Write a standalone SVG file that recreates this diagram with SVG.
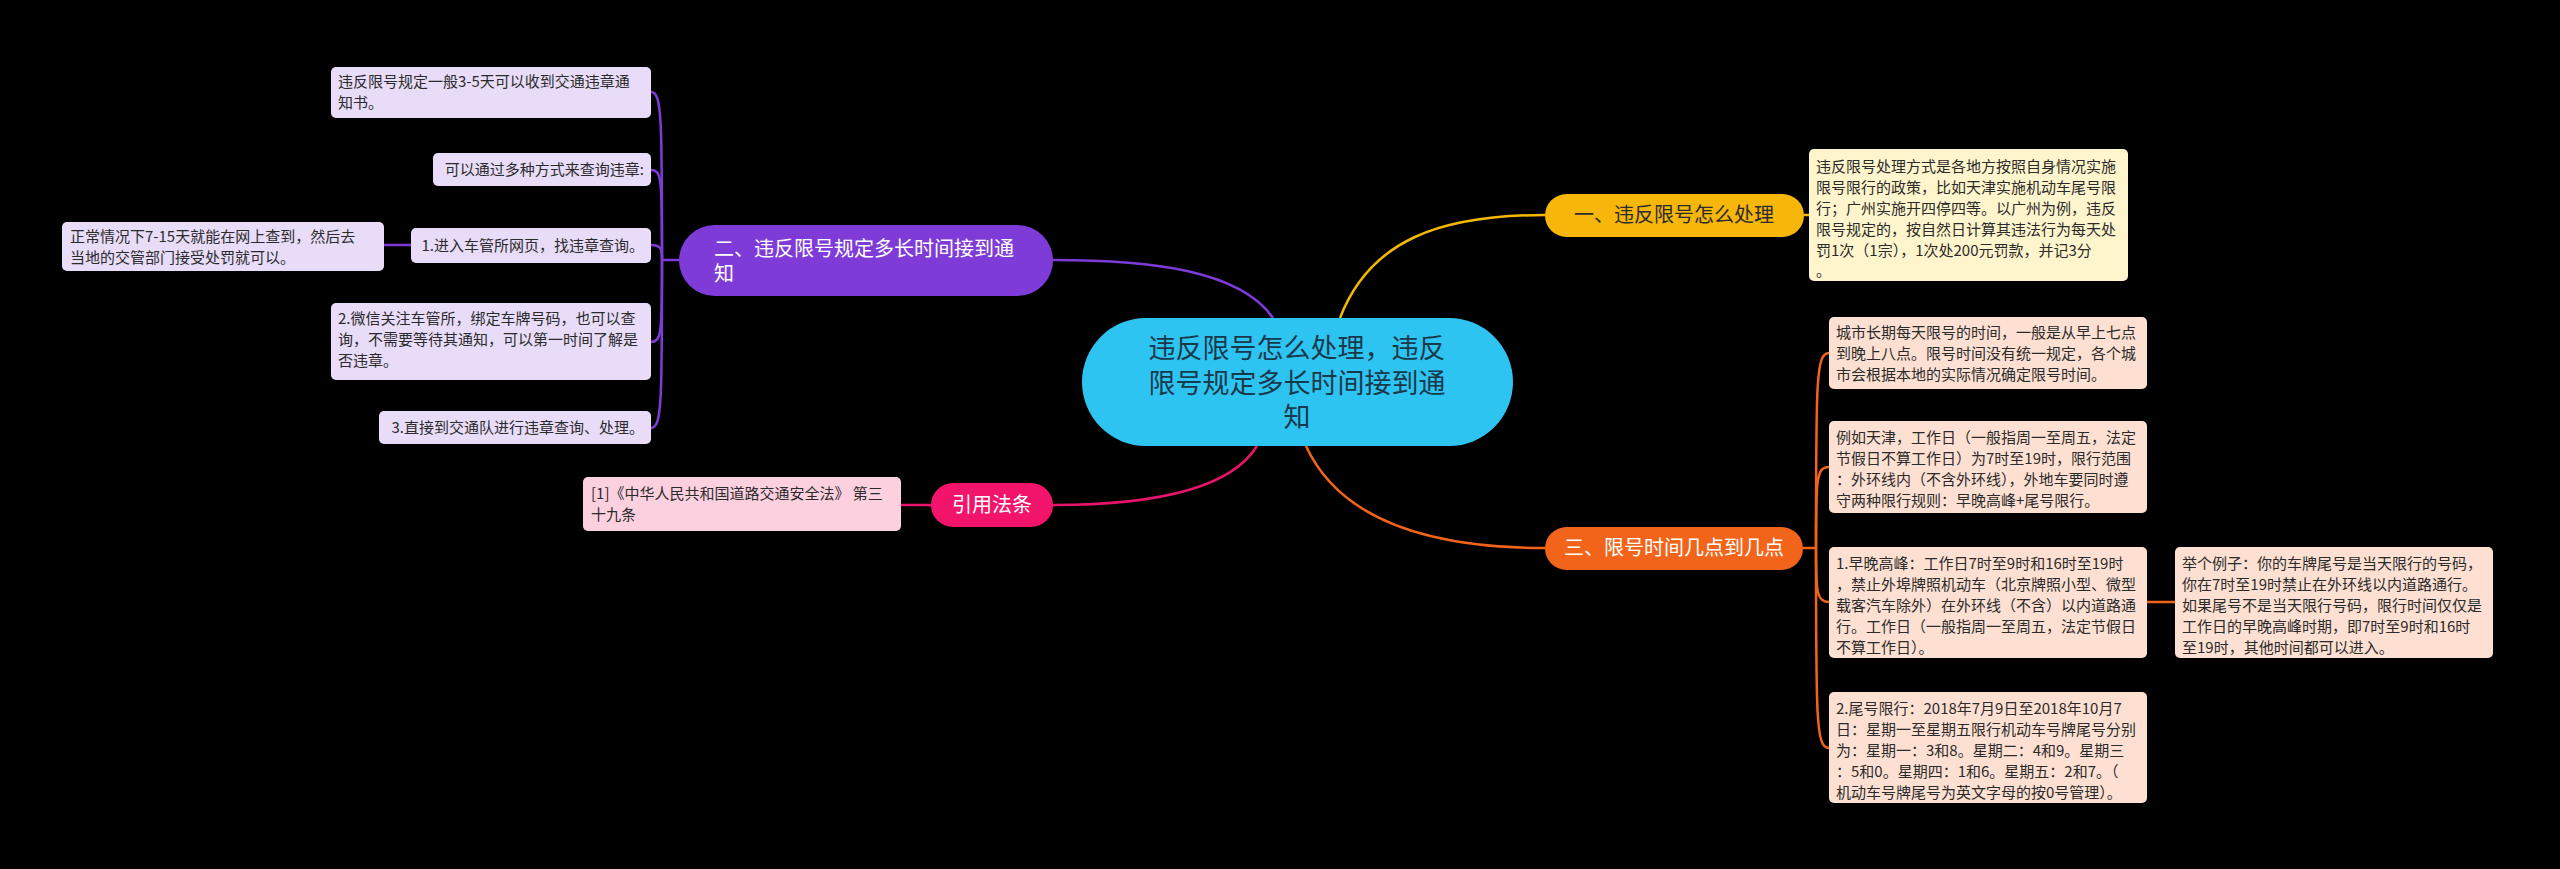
<svg xmlns="http://www.w3.org/2000/svg" width="2560" height="869" viewBox="0 0 2560 869">
<style>
text{font-family:"Noto Sans CJK SC","Liberation Sans",sans-serif;}
.leaf{font-size:15px;fill:#2b2b2b;}
.br{font-size:20px;}
.c{fill:none;stroke-width:2.5;}
</style>
<rect x="0" y="0" width="2560" height="869" fill="#000"/>
<g id="connectors">
<path class="c" stroke="#7e3bd8" d="M1273,318 C1240,270 1150,260 1053,260"/>
<path class="c" stroke="#f5b800" d="M1340,318 C1370,240 1440,215 1545,215"/>
<path class="c" stroke="#f2641a" d="M1306,446 C1340,520 1430,548 1545,548"/>
<path class="c" stroke="#e8136b" d="M1257,446 C1230,490 1150,505 1053,505"/>
<path class="c" stroke="#f5b800" d="M1804,215 L1809,215"/>
<path class="c" stroke="#e8136b" d="M931,505 L901,505"/>
<g stroke="#7e3bd8">
<path class="c" d="M679,260 L662,260"/>
<path class="c" d="M662,260 C662,120 662,92 651,92"/>
<path class="c" d="M662,260 C662,180 662,170 651,170"/>
<path class="c" d="M662,260 C662,250 662,245 651,245"/>
<path class="c" d="M662,260 C662,330 662,342 651,342"/>
<path class="c" d="M662,260 C662,400 662,428 651,428"/>
<path class="c" d="M411,245 L384,245"/>
</g>
<g stroke="#f2641a">
<path class="c" d="M1803,548 L1816,548"/>
<path class="c" d="M1816,548 C1816,380 1816,353 1829,353"/>
<path class="c" d="M1816,548 C1816,480 1816,467 1829,467"/>
<path class="c" d="M1816,548 C1816,590 1816,602 1829,602"/>
<path class="c" d="M1816,548 C1816,720 1816,748 1829,748"/>
<path class="c" d="M2147,602 L2175,602"/>
</g>
</g>
<g id="central">
<rect x="1082" y="318" width="431" height="128" rx="64" fill="#2ec4f2"/>
<text x="1297" y="358" font-size="27" fill="#17394a" text-anchor="middle">违反限号怎么处理，违反</text>
<text x="1297" y="393" font-size="27" fill="#17394a" text-anchor="middle">限号规定多长时间接到通</text>
<text x="1297" y="427" font-size="27" fill="#17394a" text-anchor="middle">知</text>
</g>
<g id="b1">
<rect x="1545" y="194" width="259" height="43" rx="21.5" fill="#f6b60a"/>
<text x="1674" y="222" class="br" fill="#2b2b2b" text-anchor="middle">一、违反限号怎么处理</text>
</g>
<g id="b1l">
<rect x="1809" y="149" width="319" height="132" rx="5" fill="#fff5cc"/>
<text class="leaf" x="1816"><tspan x="1816" y="172">违反限号处理方式是各地方按照自身情况实施</tspan><tspan x="1816" y="193">限号限行的政策，比如天津实施机动车尾号限</tspan><tspan x="1816" y="214">行；广州实施开四停四等。以广州为例，违反</tspan><tspan x="1816" y="235">限号规定的，按自然日计算其违法行为每天处</tspan><tspan x="1816" y="256">罚1次（1宗），1次处200元罚款，并记3分</tspan><tspan x="1816" y="276">。</tspan></text>
</g>
<g id="b3">
<rect x="1545" y="527" width="258" height="43" rx="21.5" fill="#f2641a"/>
<text x="1674" y="555" class="br" fill="#fff" text-anchor="middle">三、限号时间几点到几点</text>
</g>
<g id="b3a">
<rect x="1829" y="317" width="318" height="72" rx="5" fill="#fde0d2"/>
<text class="leaf"><tspan x="1836" y="338">城市长期每天限号的时间，一般是从早上七点</tspan><tspan x="1836" y="359">到晚上八点。限号时间没有统一规定，各个城</tspan><tspan x="1836" y="380">市会根据本地的实际情况确定限号时间。</tspan></text>
</g>
<g id="b3b">
<rect x="1829" y="421" width="318" height="92" rx="5" fill="#fde0d2"/>
<text class="leaf"><tspan x="1836" y="443">例如天津，工作日（一般指周一至周五，法定</tspan><tspan x="1836" y="464">节假日不算工作日）为7时至19时，限行范围</tspan><tspan x="1836" y="485">：外环线内（不含外环线），外地车要同时遵</tspan><tspan x="1836" y="506">守两种限行规则：早晚高峰+尾号限行。</tspan></text>
</g>
<g id="b3c">
<rect x="1829" y="547" width="318" height="111" rx="5" fill="#fde0d2"/>
<text class="leaf"><tspan x="1836" y="569">1.早晚高峰：工作日7时至9时和16时至19时</tspan><tspan x="1836" y="590">，禁止外埠牌照机动车（北京牌照小型、微型</tspan><tspan x="1836" y="611">载客汽车除外）在外环线（不含）以内道路通</tspan><tspan x="1836" y="632">行。工作日（一般指周一至周五，法定节假日</tspan><tspan x="1836" y="653">不算工作日）。</tspan></text>
</g>
<g id="b3d">
<rect x="2175" y="547" width="318" height="111" rx="5" fill="#fde0d2"/>
<text class="leaf"><tspan x="2182" y="569">举个例子：你的车牌尾号是当天限行的号码，</tspan><tspan x="2182" y="590">你在7时至19时禁止在外环线以内道路通行。</tspan><tspan x="2182" y="611">如果尾号不是当天限行号码，限行时间仅仅是</tspan><tspan x="2182" y="632">工作日的早晚高峰时期，即7时至9时和16时</tspan><tspan x="2182" y="653">至19时，其他时间都可以进入。</tspan></text>
</g>
<g id="b3e">
<rect x="1829" y="692" width="318" height="111" rx="5" fill="#fde0d2"/>
<text class="leaf"><tspan x="1836" y="714">2.尾号限行：2018年7月9日至2018年10月7</tspan><tspan x="1836" y="735">日：星期一至星期五限行机动车号牌尾号分别</tspan><tspan x="1836" y="756">为：星期一：3和8。星期二：4和9。星期三</tspan><tspan x="1836" y="777">：5和0。星期四：1和6。星期五：2和7。（</tspan><tspan x="1836" y="798">机动车号牌尾号为英文字母的按0号管理）。</tspan></text>
</g>
<g id="b2">
<rect x="679" y="225" width="374" height="71" rx="35.5" fill="#7e3bd8"/>
<text class="br" fill="#fff"><tspan x="714" y="256">二、违反限号规定多长时间接到通</tspan><tspan x="714" y="281">知</tspan></text>
</g>
<g id="b2a">
<rect x="331" y="67" width="320" height="51" rx="5" fill="#e8dcf8"/>
<text class="leaf"><tspan x="338" y="87">违反限号规定一般3-5天可以收到交通违章通</tspan><tspan x="338" y="108">知书。</tspan></text>
</g>
<g id="b2b">
<rect x="433" y="153" width="218" height="33" rx="5" fill="#e8dcf8"/>
<text class="leaf" x="644" y="175" text-anchor="end">可以通过多种方式来查询违章:</text>
</g>
<g id="b2c">
<rect x="411" y="228" width="240" height="35" rx="5" fill="#e8dcf8"/>
<text class="leaf" x="644" y="251" text-anchor="end">1.进入车管所网页，找违章查询。</text>
</g>
<g id="b2c1">
<rect x="62" y="222" width="322" height="49" rx="5" fill="#e8dcf8"/>
<text class="leaf"><tspan x="70" y="242">正常情况下7-15天就能在网上查到，然后去</tspan><tspan x="70" y="263">当地的交管部门接受处罚就可以。</tspan></text>
</g>
<g id="b2d">
<rect x="331" y="303" width="320" height="77" rx="5" fill="#e8dcf8"/>
<text class="leaf"><tspan x="338" y="324">2.微信关注车管所，绑定车牌号码，也可以查</tspan><tspan x="338" y="345">询，不需要等待其通知，可以第一时间了解是</tspan><tspan x="338" y="366">否违章。</tspan></text>
</g>
<g id="b2e">
<rect x="379" y="411" width="272" height="33" rx="5" fill="#e8dcf8"/>
<text class="leaf" x="644" y="433" text-anchor="end">3.直接到交通队进行违章查询、处理。</text>
</g>
<g id="b4">
<rect x="931" y="483" width="122" height="44" rx="22" fill="#f2136b"/>
<text x="992" y="512" class="br" fill="#fff" text-anchor="middle">引用法条</text>
</g>
<g id="b4l">
<rect x="583" y="477" width="318" height="54" rx="5" fill="#fdd0e0"/>
<text class="leaf"><tspan x="591" y="499">[1]《中华人民共和国道路交通安全法》 第三</tspan><tspan x="591" y="520">十九条</tspan></text>
</g>
</svg>
